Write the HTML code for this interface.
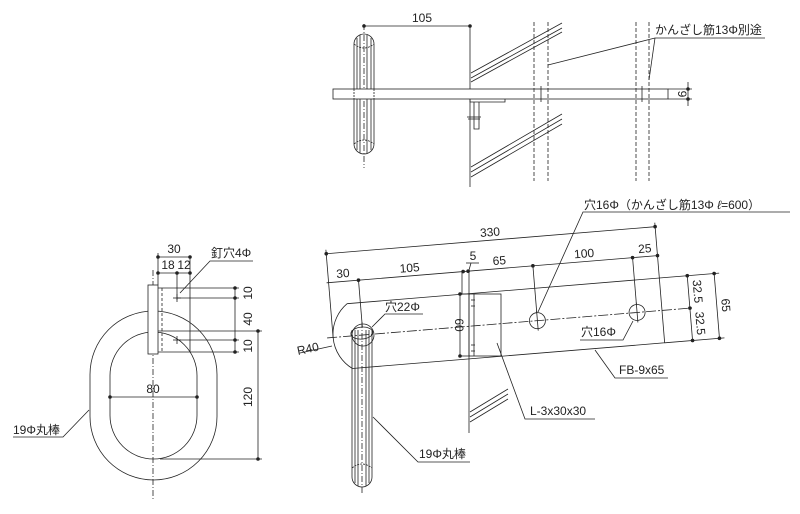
<!DOCTYPE html>
<html><head><meta charset="utf-8"><style>
html,body{margin:0;padding:0;background:#fff;}
svg{display:block;}
text{font-family:"Liberation Sans","Noto Sans CJK JP",sans-serif;font-size:12px;fill:#222;}
</style></head><body>
<svg width="800" height="514" viewBox="0 0 800 514" xmlns="http://www.w3.org/2000/svg">
<g stroke="#222" stroke-width="0.8" fill="none">
<!-- ===== TOP VIEW ===== -->
<!-- rod -->
<rect x="354" y="34" width="20" height="120" rx="10" ry="10"/>
<line x1="357" y1="38" x2="357" y2="150"/><line x1="360" y1="35" x2="360" y2="153"/>
<line x1="367" y1="35" x2="367" y2="153"/><line x1="371" y1="38" x2="371" y2="150"/>
<line x1="364" y1="24" x2="364" y2="168" stroke-dasharray="6,2,1,2"/>
<path d="M354 44 Q364 52 374 44" stroke-dasharray="2,1"/>
<path d="M354 144 Q364 136 374 144" stroke-dasharray="2,1"/>
<!-- 105 dim -->
<line x1="364" y1="26" x2="470" y2="26"/>
<!-- wall -->
<line x1="470" y1="26" x2="470" y2="187"/>
<!-- bar -->
<rect x="333" y="89" width="335" height="10" fill="#fff"/>
<line x1="354" y1="89" x2="354" y2="99" stroke-dasharray="2,1"/>
<line x1="374" y1="89" x2="374" y2="99" stroke-dasharray="2,1"/>
<!-- L angle -->
<polyline points="470,99 470,102 505,102 505,99"/>
<polyline points="474,102 474,129 479,129 479,102"/>
<line x1="467" y1="117" x2="481" y2="117"/><line x1="468" y1="119" x2="480" y2="119"/>
<!-- hatch -->
<line x1="471" y1="73" x2="562" y2="23"/><line x1="471" y1="78" x2="562" y2="28"/><line x1="471" y1="82" x2="562" y2="32"/>
<line x1="471" y1="167" x2="562" y2="114"/><line x1="471" y1="172" x2="562" y2="119"/><line x1="471" y1="177" x2="562" y2="124"/>
<!-- dashed rebar lines -->
<g stroke-dasharray="4,2">
<line x1="534" y1="22" x2="534" y2="181"/><line x1="548" y1="22" x2="548" y2="181"/>
<line x1="636" y1="22" x2="636" y2="181"/><line x1="649" y1="22" x2="649" y2="181"/>
</g>
<line x1="541" y1="86" x2="541" y2="102"/><line x1="642" y1="86" x2="642" y2="102"/>
<!-- 9 dim -->
<line x1="668" y1="89" x2="692" y2="89"/><line x1="668" y1="99" x2="692" y2="99"/>
<line x1="688" y1="82" x2="688" y2="106"/>
<!-- leader kanzashi -->
<polyline points="548,65 655,38 765,38"/>
<line x1="655" y1="38" x2="649" y2="80"/>

<!-- ===== BOTTOM VIEW ===== -->
<!-- wall line & angle -->
<line x1="469" y1="270" x2="469" y2="433"/>
<line x1="462" y1="271" x2="462" y2="294"/>
<line x1="460" y1="294" x2="460" y2="356"/>
<line x1="460" y1="294" x2="470" y2="294"/><line x1="460" y1="356" x2="470" y2="356"/>
<rect x="469" y="294" width="32" height="62" fill="none"/>
<line x1="474" y1="294" x2="474" y2="356"/>
<line x1="471" y1="300" x2="475" y2="300"/><line x1="471" y1="306" x2="475" y2="306"/>
<line x1="471" y1="345" x2="475" y2="345"/><line x1="471" y1="351" x2="475" y2="351"/>
<!-- hatch lower -->
<line x1="470" y1="412" x2="508" y2="389"/><line x1="470" y1="417" x2="508" y2="394"/><line x1="470" y1="422" x2="508" y2="399"/>
<!-- rod -->
<path d="M352 330 L352 477 A10 10 0 0 0 372 477 L372 330" fill="#fff"/>
<line x1="355" y1="330" x2="355" y2="483"/><line x1="358" y1="330" x2="358" y2="486"/>
<line x1="366" y1="330" x2="366" y2="486"/><line x1="369" y1="330" x2="369" y2="483"/>
<line x1="362" y1="322" x2="362" y2="494" stroke-dasharray="6,2,1,2"/>
<path d="M352 468 Q362 460 372 468" stroke-dasharray="2,1"/>
<!-- rotated group -->
<g transform="translate(363,335) rotate(-4.7)">
<path d="M-13.3 -32.5 L300 -32.5 L300 32.5 L-13.3 32.5 A40 40 0 0 1 -13.3 -32.5"/>
<line x1="-36" y1="0" x2="330" y2="0" stroke-dasharray="10,2,2,2"/>
<line x1="300" y1="-32.5" x2="360" y2="-32.5"/>
<line x1="300" y1="32.5" x2="360" y2="32.5"/>
<ellipse cx="-1" cy="-2" rx="11" ry="6"/>
<circle cx="0" cy="0" r="11"/>
<circle cx="175" cy="0" r="8"/><circle cx="275" cy="0" r="8"/>
<line x1="175" y1="-10" x2="175" y2="10"/><line x1="275" y1="-10" x2="275" y2="10"/>
<!-- dims -->
<line x1="-30" y1="-84" x2="300" y2="-84"/>
<line x1="-32" y1="-55" x2="300" y2="-55"/>
<line x1="-30" y1="-88" x2="-30" y2="0"/>
<line x1="300" y1="-88" x2="300" y2="-32.5"/>
<line x1="0" y1="-55" x2="0" y2="-8"/>
<line x1="175" y1="-55" x2="175" y2="-8"/>
<line x1="275" y1="-55" x2="275" y2="-8"/>
<line x1="328" y1="-32.5" x2="328" y2="32.5"/>
<line x1="355" y1="-32.5" x2="355" y2="32.5"/>
<g fill="#222" stroke="none">
<circle cx="-30" cy="-84" r="1.8"/><circle cx="300" cy="-84" r="1.8"/>
<circle cx="0" cy="-55" r="1.8"/><circle cx="175" cy="-55" r="1.8"/><circle cx="275" cy="-55" r="1.8"/><circle cx="300" cy="-55" r="1.8"/>
<circle cx="105" cy="-55" r="1.8"/><circle cx="110" cy="-55" r="1.8"/>
<circle cx="328" cy="-32.5" r="1.8"/><circle cx="328" cy="0" r="1.8"/><circle cx="328" cy="32.5" r="1.8"/>
<circle cx="355" cy="-32.5" r="1.8"/><circle cx="355" cy="32.5" r="1.8"/>
</g>
<g stroke="none">
<text x="135" y="-88" text-anchor="middle">330</text>
<text x="-15" y="-59" text-anchor="middle">30</text>
<text x="52" y="-59" text-anchor="middle">105</text>
<text x="142" y="-59" text-anchor="middle">65</text>
<text x="227" y="-59" text-anchor="middle">100</text>
<text x="288" y="-59" text-anchor="middle">25</text>
<text transform="translate(333,-16) rotate(90)" text-anchor="middle">32.5</text>
<text transform="translate(333,16) rotate(90)" text-anchor="middle">32.5</text>
<text transform="translate(360,0) rotate(90)" text-anchor="middle">65</text>
</g>
</g>
<!-- 60 dim dots -->
<g fill="#222" stroke="none"><circle cx="460" cy="294" r="1.8"/><circle cx="460" cy="356" r="1.8"/></g>
<!-- 5 label -->
<line x1="466" y1="263" x2="479" y2="263"/><line x1="471" y1="263" x2="469" y2="270"/>
<!-- leaders -->
<polyline points="538,312 583,212 790,212"/>
<polyline points="633,321 623,340 580,340"/>
<polyline points="372,327 385,314 423,314"/>
<polyline points="332,346 300,353"/>
<polyline points="595,350 615,378 668,378"/>
<polyline points="497,343 525,419 595,419"/>
<polyline points="373,417 418,462 470,462"/>

<!-- ===== LEFT VIEW ===== -->
<path d="M90 374.5 A63.5 63.5 0 0 1 217 374.5 L217 416.5 A63.5 63.5 0 0 1 90 416.5 Z"/>
<path d="M110 375.5 A43.5 43.5 0 0 1 197 375.5 L197 415.5 A43.5 43.5 0 0 1 110 415.5 Z"/>
<line x1="153" y1="270" x2="153" y2="500" stroke-dasharray="6,2,1,2"/>
<rect x="148" y="285" width="10" height="69" fill="#fff"/>
<line x1="162" y1="288" x2="162" y2="352" stroke-dasharray="3,2"/>
<line x1="190" y1="257" x2="190" y2="352"/>
<line x1="158" y1="253" x2="158" y2="285"/>
<line x1="177" y1="273" x2="177" y2="300"/>
<line x1="158" y1="257" x2="190" y2="257"/>
<line x1="158" y1="273" x2="190" y2="273"/>
<line x1="158" y1="288" x2="239" y2="288"/>
<line x1="177" y1="298" x2="239" y2="298"/>
<line x1="177" y1="340" x2="239" y2="340"/>
<line x1="158" y1="352" x2="239" y2="352"/>
<line x1="158" y1="331" x2="262" y2="331"/>
<line x1="160" y1="459" x2="262" y2="459"/>
<line x1="235" y1="288" x2="235" y2="352"/>
<line x1="258" y1="331" x2="258" y2="459"/>
<line x1="110" y1="397" x2="197" y2="397"/>
<line x1="173" y1="298" x2="181" y2="298"/><line x1="177" y1="294" x2="177" y2="302"/>
<line x1="173" y1="340" x2="181" y2="340"/><line x1="177" y1="336" x2="177" y2="344"/>
<polyline points="180,293 210,261 253,261"/>
<polyline points="89,410 63,437 13,437"/>
</g>
<g fill="#222">
<circle cx="364" cy="26" r="1.8"/><circle cx="470" cy="26" r="1.8"/>
<circle cx="688" cy="89" r="1.8"/><circle cx="688" cy="99" r="1.8"/>
<circle cx="158" cy="257" r="1.8"/><circle cx="190" cy="257" r="1.8"/>
<circle cx="158" cy="273" r="1.8"/><circle cx="177" cy="273" r="1.8"/><circle cx="190" cy="273" r="1.8"/>
<circle cx="235" cy="288" r="1.8"/><circle cx="235" cy="298" r="1.8"/><circle cx="235" cy="340" r="1.8"/><circle cx="235" cy="352" r="1.8"/>
<circle cx="258" cy="331" r="1.8"/><circle cx="258" cy="459" r="1.8"/>
<circle cx="110" cy="397" r="1.8"/><circle cx="197" cy="397" r="1.8"/>
</g>
<!-- texts -->
<text x="422" y="22" text-anchor="middle">105</text>
<text x="655" y="34" font-size="11.5">かんざし筋13Φ別途</text>
<text transform="translate(678,94) rotate(90)" text-anchor="middle">9</text>
<text x="584" y="209">穴16Φ（かんざし筋13Φ <tspan font-style="italic">ℓ</tspan>=600）</text>
<text x="581" y="336">穴16Φ</text>
<text x="385" y="311">穴22Φ</text>
<text transform="translate(298,355) rotate(-12)">R40</text>
<text x="473" y="260" text-anchor="middle">5</text>
<text transform="translate(455,325) rotate(90)" text-anchor="middle" font-size="10">60</text>
<text x="619" y="374">FB-9x65</text>
<text x="530" y="415">L-3x30x30</text>
<text x="419" y="458">19Φ丸棒</text>
<text x="174" y="253" text-anchor="middle">30</text>
<text x="168" y="269" text-anchor="middle">18</text>
<text x="184" y="269" text-anchor="middle">12</text>
<text x="211" y="257">釘穴4Φ</text>
<text transform="translate(252,293) rotate(-90)" text-anchor="middle">10</text>
<text transform="translate(252,319) rotate(-90)" text-anchor="middle">40</text>
<text transform="translate(252,346) rotate(-90)" text-anchor="middle">10</text>
<text transform="translate(252,397) rotate(-90)" text-anchor="middle">120</text>
<text x="153" y="393" text-anchor="middle">80</text>
<text x="13" y="434">19Φ丸棒</text>
</svg>
</body></html>
